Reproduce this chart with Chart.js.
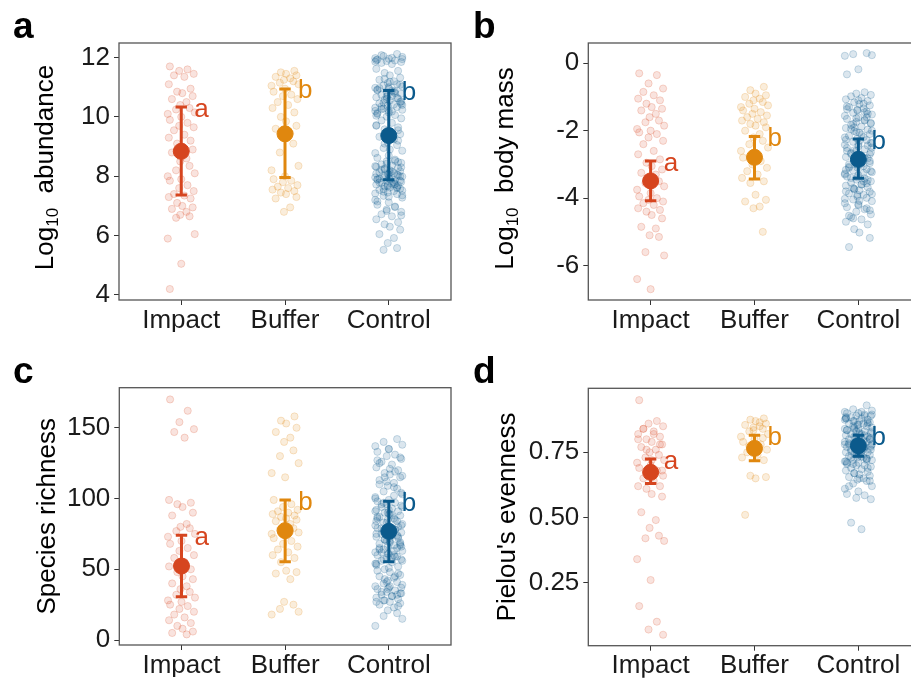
<!DOCTYPE html>
<html>
<head>
<meta charset="utf-8">
<script src="https://cdn.jsdelivr.net/npm/chart.js@4.4.1/dist/chart.umd.min.js"></script>
<style>
html, body { margin: 0; padding: 0; background: #fff; overflow: hidden; }
#wrap { position: relative; width: 911px; height: 680px; overflow: hidden; }
canvas { position: absolute; }
</style>
</head>
<body>
<div id="wrap">
  <canvas id="pa" width="460" height="340" style="left:0;top:0"></canvas>
  <canvas id="pb" width="475" height="340" style="left:460px;top:0"></canvas>
  <canvas id="pc" width="460" height="340" style="left:0;top:340px"></canvas>
  <canvas id="pd" width="475" height="340" style="left:460px;top:340px"></canvas>
</div>
<script>
const sites = ['Impact', 'Buffer', 'Control']
const siteColors = ['#D6451F', '#E0870E', '#0B5A8C']
const siteRgb = ['214,69,31', '224,135,14', '11,90,140']
// horizontal jitter (category units), cycled over the points
const jitter = [-0.11, 0.06, -0.02, 0.12, -0.07, 0.03, -0.12, 0.09, -0.04, 0.01, 0.11, -0.09, 0.05, -0.01, 0.08, -0.05, 0.13, -0.13, 0.0]

// a: log10 abundance
const abundImpact = [11.7, 11.6, 11.55, 11.45, 11.4, 11.35, 11.1, 10.95, 10.85, 10.8, 10.7, 10.6, 10.5, 10.4, 10.3, 10.25, 10.15, 10.1, 10.0, 9.9, 9.8, 9.7, 9.65, 9.55, 9.4, 9.3, 9.2, 9.1, 9.0, 8.9, 8.8, 8.6, 8.5, 8.35, 8.2, 8.1, 8.0, 7.9, 7.85, 7.7, 7.6, 7.5, 7.4, 7.35, 7.3, 7.25, 7.1, 7.0, 6.95, 6.9, 6.8, 6.7, 6.65, 6.6, 6.05, 5.9, 5.05, 4.2]
const abundBuffer = [11.55, 11.5, 11.45, 11.4, 11.35, 11.3, 11.25, 11.2, 11.15, 11.1, 11.05, 10.95, 10.85, 10.75, 10.7, 10.6, 10.5, 10.4, 10.3, 10.15, 10.0, 9.85, 9.7, 9.6, 9.45, 9.3, 9.1, 8.8, 8.35, 8.2, 8.0, 7.9, 7.85, 7.8, 7.7, 7.65, 7.6, 7.55, 7.5, 7.45, 7.4, 7.3, 7.25, 6.95, 6.8]
const abundControl = [12.12, 12.05, 12.02, 11.98, 11.96, 11.93, 11.9, 11.88, 11.85, 11.82, 11.78, 11.62, 11.55, 11.48, 11.4, 11.32, 11.25, 11.2, 11.14, 11.1, 11.06, 11.02, 10.98, 10.95, 10.9, 10.87, 10.83, 10.78, 10.74, 10.7, 10.66, 10.62, 10.58, 10.55, 10.5, 10.46, 10.42, 10.38, 10.33, 10.28, 10.24, 10.2, 10.15, 10.1, 10.06, 10.01, 9.95, 9.88, 9.8, 9.72, 9.65, 9.58, 9.5, 9.42, 9.33, 9.25, 9.15, 9.05, 8.95, 8.86, 8.78, 8.7, 8.62, 8.56, 8.5, 8.45, 8.4, 8.36, 8.32, 8.28, 8.24, 8.2, 8.17, 8.14, 8.11, 8.08, 8.05, 8.02, 7.99, 7.96, 7.93, 7.9, 7.87, 7.84, 7.81, 7.78, 7.75, 7.72, 7.69, 7.66, 7.62, 7.58, 7.54, 7.5, 7.45, 7.4, 7.34, 7.28, 7.2, 7.12, 7.04, 6.96, 6.88, 6.8, 6.72, 6.65, 6.55, 6.45, 6.38, 6.3, 6.2, 6.05, 5.92, 5.75, 5.58, 5.52, 11.95, 11.86, 11.0, 10.92, 10.8, 10.68, 10.52, 10.35, 10.18, 10.04, 8.48, 8.26, 8.12, 8.0, 7.92, 7.8, 7.7, 7.6, 7.48, 7.36, 8.34, 8.06, 7.88, 7.74, 10.6, 10.44, 10.26, 10.88, 9.7, 9.2, 11.28, 11.18, 11.08, 10.97, 10.85, 10.73, 10.64, 10.48, 10.4, 10.31, 10.22, 10.13, 8.52, 8.42, 8.3, 8.22, 8.16, 8.09, 8.03, 7.97, 7.91, 7.85, 7.79, 7.73, 7.67, 7.63, 7.57, 7.52, 7.42, 7.31, 7.15, 6.98, 6.83, 6.68, 12.08, 11.99, 11.91, 9.55, 9.1, 8.9]
const abundMean = [8.84, 9.43, 9.37]
const abundLow = [7.37, 7.96, 7.88]
const abundHigh = [10.33, 10.94, 10.89]
const abundLetters = ['a', 'b', 'b']
const abundTicks = [4, 6, 8, 10, 12]

// b: log10 body mass
const massImpact = [-0.3, -0.35, -0.6, -0.75, -0.85, -0.95, -1.05, -1.1, -1.2, -1.3, -1.35, -1.4, -1.5, -1.6, -1.7, -1.75, -1.85, -1.95, -2.0, -2.05, -2.1, -2.2, -2.3, -2.4, -2.6, -2.7, -2.85, -2.95, -3.05, -3.15, -3.25, -3.3, -3.4, -3.5, -3.55, -3.65, -3.75, -3.85, -3.95, -4.0, -4.05, -4.1, -4.15, -4.2, -4.3, -4.35, -4.4, -4.5, -4.6, -4.85, -4.9, -5.1, -5.15, -5.6, -5.7, -6.4, -6.7]
const massBuffer = [-0.7, -0.8, -0.9, -0.95, -1.0, -1.05, -1.1, -1.15, -1.2, -1.25, -1.3, -1.35, -1.4, -1.45, -1.5, -1.55, -1.6, -1.65, -1.7, -1.75, -1.8, -1.85, -1.9, -2.0, -2.1, -2.2, -2.3, -2.4, -2.5, -2.6, -2.7, -2.8, -2.9, -3.0, -3.1, -3.2, -3.3, -3.4, -3.5, -3.55, -3.9, -4.05, -4.1, -4.25, -4.3, -5.0]
const massControl = [0.3, 0.27, 0.24, 0.22, -0.18, -0.33, -0.86, -0.9, -0.94, -0.98, -1.03, -1.07, -1.12, -1.16, -1.21, -1.25, -1.3, -1.34, -1.38, -1.43, -1.47, -1.52, -1.56, -1.61, -1.65, -1.7, -1.74, -1.79, -1.83, -1.88, -1.92, -1.97, -2.01, -2.06, -2.1, -2.15, -2.19, -2.24, -2.28, -2.33, -2.37, -2.42, -2.46, -2.51, -2.55, -2.6, -2.64, -2.69, -2.73, -2.78, -2.82, -2.87, -2.91, -2.96, -3.0, -3.05, -3.09, -3.14, -3.18, -3.23, -3.27, -3.32, -3.36, -3.41, -3.45, -3.5, -3.54, -3.59, -3.63, -3.68, -3.72, -3.77, -3.81, -3.86, -3.9, -3.95, -3.99, -4.04, -4.09, -4.15, -4.21, -4.27, -4.33, -4.4, -4.48, -4.56, -4.63, -4.7, -4.78, -4.92, -5.02, -5.18, -5.45, -1.2, -1.4, -1.6, -1.8, -2.0, -2.2, -2.4, -2.6, -2.8, -3.0, -3.2, -3.4, -3.6, -3.8, -1.5, -1.9, -2.3, -2.7, -3.1, -3.5, -3.9, -4.3, -4.6, -2.5, -3.3, -1.1, -1.28, -1.45, -1.63, -1.77, -1.95, -2.12, -2.27, -2.44, -2.58, -2.75, -2.9, -3.07, -3.25, -3.38, -3.56, -3.7, -3.88, -4.02, -4.18, -1.36, -1.68, -2.04, -2.36, -2.66, -2.98, -3.16, -3.46, -3.74, -4.08, -4.36, -4.52]
const massMean = [-3.49, -2.79, -2.85]
const massLow = [-4.08, -3.43, -3.41]
const massHigh = [-2.9, -2.17, -2.25]
const massLetters = ['a', 'b', 'b']
const massTicks = [-6, -4, -2, 0]

// c: species richness
const richImpact = [170, 162, 154, 149, 147, 143, 99, 97, 96, 94, 90, 88, 82, 80, 79, 77, 75, 73, 70, 68, 65, 63, 60, 58, 55, 52, 50, 48, 45, 43, 40, 38, 36, 34, 32, 30, 28, 27, 25, 24, 22, 20, 18, 16, 14, 12, 10, 8, 6, 5, 4]
const richBuffer = [158, 155, 153, 150, 147, 143, 140, 134, 130, 125, 118, 115, 99, 96, 94, 92, 91, 90, 89, 88, 87, 86, 85, 84, 82, 80, 79, 78, 76, 75, 74, 72, 70, 68, 66, 64, 62, 60, 58, 55, 49, 48, 47, 43, 27, 25, 22, 20, 18]
const richControl = [142, 140, 138, 137, 135, 133, 131, 130, 128, 126, 124, 122, 120, 118, 117, 115, 113, 111, 109, 107, 105, 103, 101, 99, 98, 97, 96, 95, 94, 93, 92, 91, 90, 89, 88, 87, 86, 85, 84, 83, 82, 81, 80, 79, 78, 77, 76, 75, 74, 73, 72, 71, 70, 69, 68, 67, 66, 65, 64, 63, 62, 61, 60, 59, 58, 57, 56, 55, 54, 52, 50, 48, 46, 45, 44, 42, 41, 40, 39, 38, 37, 36, 35, 34, 33, 32, 31, 30, 29, 28, 27, 26, 25, 23, 21, 19, 17, 15, 10, 135, 127, 119, 112, 104, 96, 88, 84, 80, 76, 72, 68, 64, 60, 36, 32, 28, 116, 100, 92, 86, 78, 70, 66, 62, 58, 53, 47, 43, 38, 33, 125, 108, 90, 74, 97, 94, 91, 89, 87, 85, 83, 81, 79, 77, 75, 73, 71, 69, 67, 65, 63, 61, 59, 57, 56, 54, 51, 49, 45, 41, 37, 34, 31, 27, 24, 115, 121, 129, 110, 102]
const richMean = [52.3, 77.3, 76.8]
const richLow = [30.6, 55.4, 55.4]
const richHigh = [74, 98.9, 98]
const richLetters = ['a', 'b', 'b']
const richTicks = [0, 50, 100, 150]

// d: Pielou's evenness
const evenImpact = [0.95, 0.87, 0.86, 0.85, 0.84, 0.83, 0.82, 0.81, 0.8, 0.79, 0.78, 0.77, 0.76, 0.75, 0.74, 0.73, 0.72, 0.71, 0.7, 0.69, 0.68, 0.67, 0.66, 0.65, 0.64, 0.62, 0.62, 0.61, 0.59, 0.58, 0.52, 0.49, 0.46, 0.43, 0.42, 0.41, 0.34, 0.26, 0.16, 0.1, 0.07, 0.05, 0.84, 0.82, 0.8, 0.78, 0.76, 0.72, 0.68]
const evenBuffer = [0.88, 0.875, 0.87, 0.86, 0.855, 0.85, 0.845, 0.84, 0.83, 0.82, 0.81, 0.8, 0.79, 0.78, 0.77, 0.76, 0.75, 0.74, 0.73, 0.72, 0.66, 0.65, 0.655, 0.51, 0.865, 0.835, 0.805, 0.775]
const evenControl = [0.93, 0.915, 0.91, 0.905, 0.9, 0.9, 0.895, 0.89, 0.89, 0.885, 0.88, 0.88, 0.875, 0.87, 0.87, 0.865, 0.86, 0.86, 0.855, 0.85, 0.85, 0.845, 0.84, 0.84, 0.835, 0.83, 0.83, 0.825, 0.82, 0.82, 0.815, 0.81, 0.81, 0.805, 0.8, 0.8, 0.795, 0.79, 0.79, 0.785, 0.78, 0.78, 0.775, 0.77, 0.77, 0.765, 0.76, 0.76, 0.755, 0.75, 0.75, 0.745, 0.74, 0.74, 0.735, 0.73, 0.73, 0.725, 0.72, 0.72, 0.715, 0.71, 0.705, 0.7, 0.7, 0.695, 0.69, 0.685, 0.68, 0.675, 0.67, 0.665, 0.66, 0.655, 0.65, 0.645, 0.64, 0.63, 0.62, 0.61, 0.6, 0.59, 0.585, 0.575, 0.57, 0.48, 0.455, 0.88, 0.86, 0.84, 0.82, 0.8, 0.78, 0.76, 0.74, 0.72, 0.87, 0.83, 0.79, 0.75, 0.71, 0.89, 0.81, 0.77, 0.73, 0.905, 0.885, 0.865, 0.845, 0.825, 0.805, 0.785, 0.765, 0.745, 0.725, 0.705, 0.895, 0.875, 0.855, 0.835, 0.815, 0.795, 0.775, 0.755, 0.735, 0.715, 0.69, 0.67, 0.65, 0.64, 0.62]
const evenMean = [0.673, 0.765, 0.775]
const evenLow = [0.63, 0.718, 0.735]
const evenHigh = [0.724, 0.815, 0.815]
const evenLetters = ['a', 'b', 'b']
const evenTicks = [0.25, 0.5, 0.75]

const FONT = '"Liberation Sans", Arial, sans-serif'
const Y_AXIS_W = 72
const X_AXIS_H = 32
const CAP = 0.055

const deco = {
  id: 'deco',
  afterDraw(chart, args, o) {
    const ctx = chart.ctx
    const a = chart.chartArea
    const xs = chart.scales.x, ys = chart.scales.y
    ctx.save()
    // panel border
    ctx.strokeStyle = '#555'
    ctx.lineWidth = 1.3
    ctx.strokeRect(a.left, a.top, a.right - a.left, a.bottom - a.top)
    // significance letters
    ctx.font = '26px ' + FONT
    ctx.textAlign = 'left'
    ctx.textBaseline = 'alphabetic'
    o.letters.forEach((l, g) => {
      ctx.fillStyle = siteColors[g]
      ctx.fillText(l, xs.getPixelForValue(g) + 13, ys.getPixelForValue(o.high[g]) + 9.5)
    })
    // panel letter
    ctx.fillStyle = '#000'
    ctx.font = 'bold 37px ' + FONT
    ctx.fillText(o.tag, 13, o.tagY)
    // y title (rotated, with optional subscript)
    ctx.translate(o.titleX, (a.top + a.bottom) / 2 + o.titleShift)
    ctx.rotate(-Math.PI / 2)
    let total = 0
    const widths = o.title.map(p => {
      ctx.font = (p.sub ? '17px ' : '26px ') + FONT
      const w = ctx.measureText(p.text).width
      total += w
      return w
    })
    let x = -total / 2
    o.title.forEach((p, i) => {
      ctx.font = (p.sub ? '17px ' : '26px ') + FONT
      ctx.fillStyle = '#000'
      ctx.fillText(p.text, x, p.sub ? 5 : 0)
      x += widths[i]
    })
    ctx.restore()
  }
}

function makePanel(id, p) {
  const datasets = []
  p.groups.forEach((vals, g) => {
    datasets.push({
      data: vals.map((v, k) => ({x: g + jitter[(k + g * 7) % jitter.length], y: v})),
      pointRadius: 3.6,
      backgroundColor: `rgba(${siteRgb[g]},0.15)`,
      borderColor: `rgba(${siteRgb[g]},0.2)`,
      borderWidth: 1,
      order: 3
    })
    datasets.push({
      data: [
        {x: g - CAP, y: p.high[g]}, {x: g + CAP, y: p.high[g]}, {x: g, y: null},
        {x: g, y: p.high[g]}, {x: g, y: p.low[g]}, {x: g, y: null},
        {x: g - CAP, y: p.low[g]}, {x: g + CAP, y: p.low[g]}
      ],
      showLine: true,
      spanGaps: false,
      borderColor: siteColors[g],
      borderWidth: 3,
      pointRadius: 0,
      order: 2
    })
    datasets.push({
      data: [{x: g, y: p.mean[g]}],
      pointRadius: 8,
      backgroundColor: siteColors[g],
      borderColor: siteColors[g],
      borderWidth: 1,
      order: 1
    })
  })

  const el = document.getElementById(id)
  return new Chart(el, {
    type: 'scatter',
    data: { datasets },
    options: {
      responsive: false,
      animation: false,
      layout: {
        padding: {
          left: p.area.l - Y_AXIS_W,
          top: p.area.t,
          right: el.width - p.area.r,
          bottom: el.height - p.area.b - X_AXIS_H
        }
      },
      plugins: {
        legend: { display: false },
        tooltip: { enabled: false },
        deco: {
          letters: p.letters, high: p.high, tag: p.tag, tagY: p.tagY,
          title: p.title, titleX: p.titleX, titleShift: p.titleShift || 0
        }
      },
      scales: {
        x: {
          type: 'linear', min: -0.6, max: 2.6,
          afterBuildTicks: s => { s.ticks = [0, 1, 2].map(v => ({value: v})) },
          afterFit: s => { s.height = X_AXIS_H },
          ticks: {
            callback: v => sites[v], autoSkip: false, maxRotation: 0,
            font: { size: 26, family: FONT }, color: '#1a1a1a', padding: 0
          },
          grid: { drawOnChartArea: false, tickLength: 5, tickColor: '#333', lineWidth: 1 },
          border: { display: false }
        },
        y: {
          type: 'linear', min: p.yMin, max: p.yMax,
          afterBuildTicks: s => { s.ticks = p.ticks.map(v => ({value: v})) },
          afterFit: s => { s.width = Y_AXIS_W },
          ticks: {
            callback: p.fmt, autoSkip: false,
            font: { size: 26, family: FONT }, color: '#1a1a1a', padding: 4
          },
          grid: { drawOnChartArea: false, tickLength: 5, tickColor: '#333', lineWidth: 1 },
          border: { display: false }
        }
      }
    },
    plugins: [deco]
  })
}

makePanel('pa', {
  groups: [abundImpact, abundBuffer, abundControl],
  mean: abundMean, low: abundLow, high: abundHigh, letters: abundLetters,
  ticks: abundTicks, yMin: 3.83, yMax: 12.49, fmt: v => String(v),
  area: {l: 119, t: 43, r: 452, b: 300},
  tag: 'a', tagY: 38,
  title: [{text: 'Log'}, {text: '10', sub: true}, {text: '  abundance'}], titleX: 53, titleShift: -4
})
makePanel('pb', {
  groups: [massImpact, massBuffer, massControl],
  mean: massMean, low: massLow, high: massHigh, letters: massLetters,
  ticks: massTicks, yMin: -7.02, yMax: 0.6, fmt: v => String(v),
  area: {l: 128.3, t: 43, r: 460.7, b: 300},
  tag: 'b', tagY: 38,
  title: [{text: 'Log'}, {text: '10', sub: true}, {text: '  body mass'}], titleX: 53, titleShift: -3
})
makePanel('pc', {
  groups: [richImpact, richBuffer, richControl],
  mean: richMean, low: richLow, high: richHigh, letters: richLetters,
  ticks: richTicks, yMin: -3.5, yMax: 178.3, fmt: v => String(v),
  area: {l: 119.3, t: 47.7, r: 452, b: 305},
  tag: 'c', tagY: 43,
  title: [{text: 'Species richness'}], titleX: 55
})
makePanel('pd', {
  groups: [evenImpact, evenBuffer, evenControl],
  mean: evenMean, low: evenLow, high: evenHigh, letters: evenLetters,
  ticks: evenTicks, yMin: 0.008, yMax: 0.9955, fmt: v => v.toFixed(2),
  area: {l: 128.3, t: 48.3, r: 460.7, b: 305.7},
  tag: 'd', tagY: 43,
  title: [{text: "Pielou's evenness"}], titleX: 55
})
</script>
</body>
</html>
